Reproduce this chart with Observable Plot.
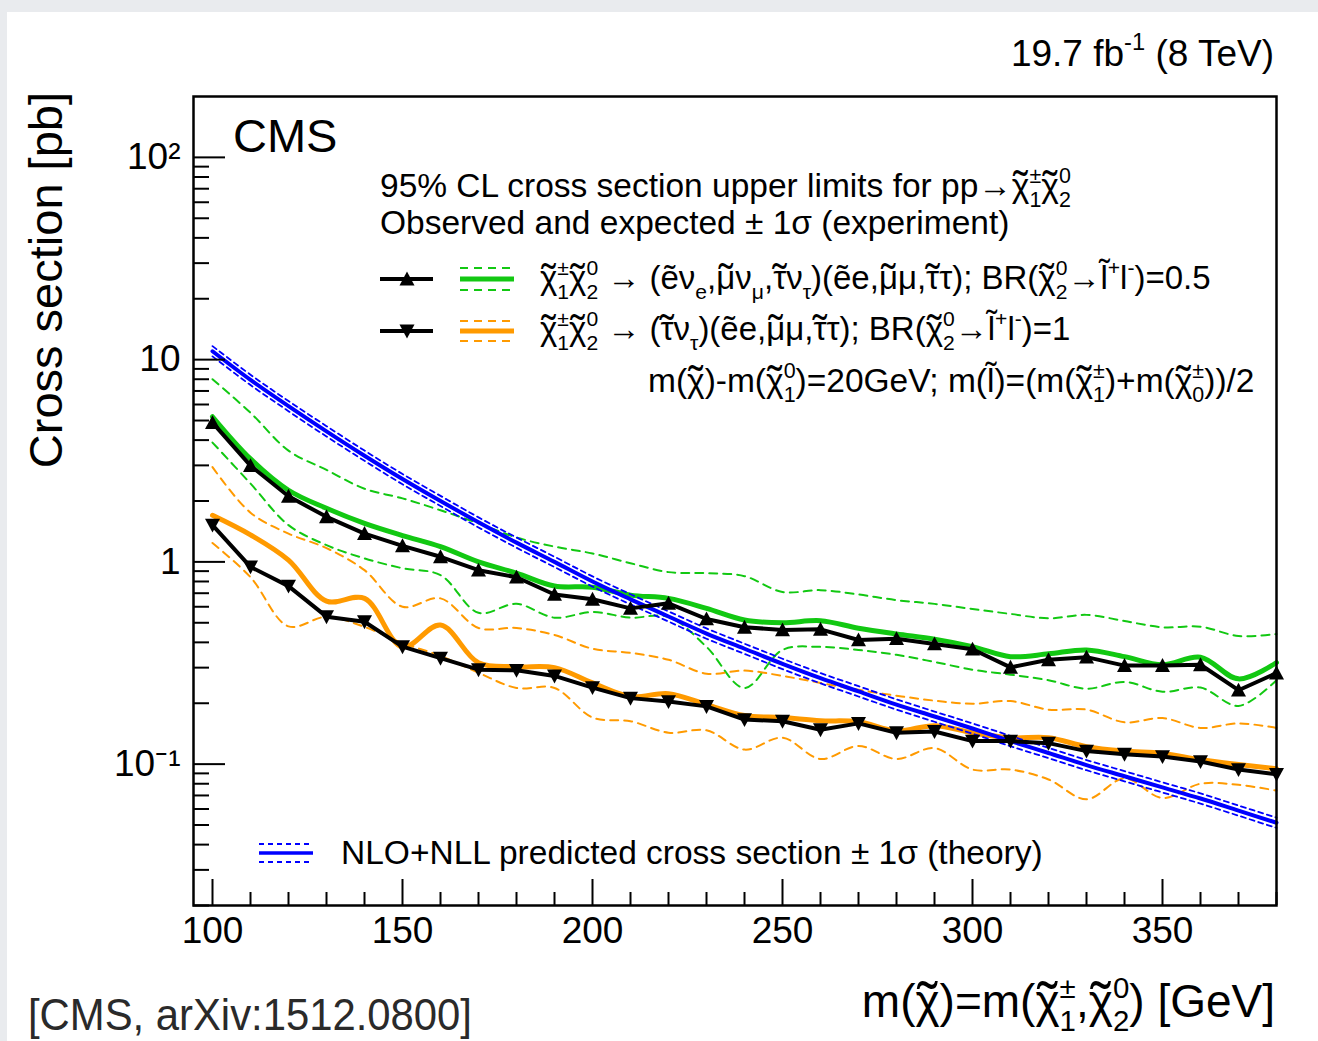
<!DOCTYPE html>
<html><head><meta charset="utf-8">
<script src="https://cdn.jsdelivr.net/npm/d3@7"></script>
<script src="https://cdn.jsdelivr.net/npm/@observablehq/plot@0.6"></script>
<style>
html,body{margin:0;padding:0;background:#e9ebee;overflow:hidden;}
#wrap{position:relative;width:1318px;height:1041px;background:#e9ebee;overflow:hidden;}
#page{position:absolute;left:7px;top:12px;width:1311px;height:1029px;background:#fff;}
#chart{position:absolute;left:0;top:0;}
#overlay{position:absolute;left:0;top:0;}
text{font-family:"Liberation Sans",Arial,Helvetica,sans-serif;}
</style></head><body>
<div id="wrap"><div id="page"></div><div id="chart"></div><svg id="overlay" width="1318" height="1041" xmlns="http://www.w3.org/2000/svg"></svg></div>
<script>
// ---------------- data ----------------
const mass = [100,110,120,130,140,150,160,170,180,190,200,210,220,230,240,250,260,270,280,290,300,310,320,330,340,350,360,370,380];
// Observed, BR(chi2 -> l l) = 0.5 (triangle up)
const obsA = [4.88,2.99,2.11,1.67,1.38,1.20,1.06,0.91,0.84,0.69,0.653,0.589,0.624,0.522,0.475,0.461,0.464,0.411,0.417,0.393,0.370,0.301,0.328,0.338,0.307,0.307,0.310,0.232,0.282];
const expA = [5.22,3.23,2.26,1.84,1.55,1.35,1.19,1.00,0.88,0.76,0.75,0.685,0.66,0.589,0.516,0.50,0.512,0.47,0.44,0.415,0.381,0.34,0.351,0.367,0.34,0.31,0.338,0.264,0.318];
const expAUp = [8.0,5.46,3.55,2.85,2.30,2.06,1.80,1.55,1.32,1.19,1.10,0.985,0.89,0.88,0.85,0.71,0.725,0.69,0.647,0.62,0.585,0.553,0.526,0.547,0.51,0.475,0.478,0.43,0.44];
const expADn = [3.89,2.44,1.52,1.21,1.04,0.93,0.86,0.56,0.62,0.53,0.565,0.53,0.535,0.38,0.238,0.367,0.38,0.367,0.347,0.32,0.293,0.277,0.26,0.236,0.255,0.228,0.239,0.194,0.26];
// Observed, BR = 1 (triangle down)
const obsB = [1.52,0.945,0.759,0.536,0.506,0.381,0.334,0.293,0.291,0.273,0.239,0.212,0.204,0.193,0.166,0.163,0.148,0.159,0.143,0.145,0.130,0.130,0.127,0.116,0.112,0.109,0.103,0.094,0.089];
const expB = [1.70,1.36,1.02,0.64,0.66,0.38,0.487,0.317,0.303,0.30,0.252,0.216,0.223,0.197,0.174,0.17,0.164,0.162,0.146,0.155,0.143,0.135,0.135,0.122,0.116,0.113,0.105,0.0995,0.095];
const expBUp = [2.94,1.75,1.38,1.17,0.91,0.60,0.66,0.471,0.471,0.435,0.372,0.355,0.328,0.28,0.29,0.273,0.252,0.233,0.218,0.206,0.199,0.205,0.186,0.186,0.161,0.169,0.151,0.159,0.151];
const expBDn = [1.24,0.84,0.48,0.535,0.477,0.397,0.343,0.283,0.238,0.238,0.17,0.163,0.143,0.147,0.118,0.135,0.106,0.123,0.106,0.12,0.094,0.094,0.084,0.067,0.085,0.068,0.08,0.079,0.074];
// NLO+NLL theory
const theory = [11.0,7.94,5.89,4.42,3.35,2.57,2.00,1.57,1.245,1.00,0.800,0.653,0.537,0.442,0.372,0.313,0.266,0.229,0.197,0.172,0.150,0.130,0.1135,0.0989,0.0871,0.0767,0.0676,0.0589,0.0513];
const theoryUp = [11.66,8.42,6.24,4.69,3.55,2.72,2.12,1.66,1.32,1.06,0.848,0.692,0.569,0.469,0.394,0.332,0.282,0.243,0.209,0.182,0.159,0.138,0.1203,0.1048,0.0923,0.0813,0.0717,0.0624,0.0544];
const theoryDn = [10.38,7.49,5.56,4.17,3.16,2.42,1.89,1.48,1.175,0.943,0.755,0.616,0.507,0.417,0.351,0.295,0.251,0.216,0.186,0.162,0.1415,0.1226,0.1071,0.0933,0.0822,0.0724,0.0638,0.0556,0.0484];
// axis ticks
const xMajor = [100,150,200,250,300,350];
const xMinor = [110,120,130,140,160,170,180,190,210,220,230,240,260,270,280,290,310,320,330,340,360,370,380];
const yMajor = [0.1,1,10,100];
const yMajorLabels = ["10\u207B\u00B9","1","10","10\u00B2"];
const yMinor = [0.02,0.03,0.04,0.05,0.06,0.07,0.08,0.09,0.2,0.3,0.4,0.5,0.6,0.7,0.8,0.9,2,3,4,5,6,7,8,9,20,30,40,50,60,70,80,90];

// ---------------- styles ----------------
const GREEN = "#12c812", ORANGE = "#ff9a00", BLUE = "#0000ff";
const series = arr => mass.map((m, i) => ({m, v: arr[i]}));
const triUp = {draw(ctx, size) { const r = Math.sqrt(size / Math.PI); ctx.moveTo(0, -r); ctx.lineTo(r, 0.85 * r); ctx.lineTo(-r, 0.85 * r); ctx.closePath(); }};
const triDn = {draw(ctx, size) { const r = Math.sqrt(size / Math.PI); ctx.moveTo(0, r); ctx.lineTo(r, -0.85 * r); ctx.lineTo(-r, -0.85 * r); ctx.closePath(); }};
const C = "catmull-rom";
const L = (arr, o) => Plot.line(series(arr), {x: "m", y: "v", ...o});

const chart = Plot.plot({
  width: 1318, height: 1041,
  marginLeft: 193, marginRight: 42, marginTop: 96, marginBottom: 136,
  style: {background: "transparent", fontFamily: "Liberation Sans, Arial, Helvetica, sans-serif", overflow: "visible"},
  x: {domain: [95, 380]},
  y: {type: "log", domain: [0.02, 200]},
  marks: [
    L(expAUp, {stroke: GREEN, strokeWidth: 2, strokeDasharray: "8,6", curve: C}),
    L(expADn, {stroke: GREEN, strokeWidth: 2, strokeDasharray: "8,6", curve: C}),
    L(expBUp, {stroke: ORANGE, strokeWidth: 2, strokeDasharray: "8,6", curve: C}),
    L(expBDn, {stroke: ORANGE, strokeWidth: 2, strokeDasharray: "8,6", curve: C}),
    L(expA, {stroke: GREEN, strokeWidth: 5, curve: C}),
    L(expB, {stroke: ORANGE, strokeWidth: 5, curve: C}),
    L(theoryUp, {stroke: BLUE, strokeWidth: 1.8, strokeDasharray: "5,4", curve: C}),
    L(theoryDn, {stroke: BLUE, strokeWidth: 1.8, strokeDasharray: "5,4", curve: C}),
    L(theory, {stroke: BLUE, strokeWidth: 4, curve: C}),
    L(obsA, {stroke: "black", strokeWidth: 4}),
    L(obsB, {stroke: "black", strokeWidth: 4}),
    Plot.dot(series(obsA), {x: "m", y: "v", symbol: triUp, r: 7.5, fill: "black", stroke: "none"}),
    Plot.dot(series(obsB), {x: "m", y: "v", symbol: triDn, r: 7.5, fill: "black", stroke: "none"}),
    Plot.frame({stroke: "black", strokeWidth: 2.5}),
    Plot.axisY({ticks: yMajor, tickSize: -32, tickFormat: () => "", strokeWidth: 2, label: null}),
    Plot.axisY({ticks: yMinor, tickSize: -16, tickFormat: () => "", strokeWidth: 2, label: null}),
    Plot.axisY({ticks: yMajor, tickSize: 0, tickPadding: 13, tickFormat: d => yMajorLabels[yMajor.indexOf(d)], fontSize: 37, label: null}),
    Plot.axisX({ticks: xMajor, tickSize: -26, tickFormat: () => "", strokeWidth: 2, label: null}),
    Plot.axisX({ticks: xMinor, tickSize: -13, tickFormat: () => "", strokeWidth: 2, label: null}),
    Plot.axisX({ticks: xMajor, tickSize: 0, tickPadding: 11, tickFormat: d => String(d), fontSize: 37, label: null})
  ]
});
document.getElementById("chart").appendChild(chart);

// ---------------- texts & legend ----------------
const NS = "http://www.w3.org/2000/svg";
const ov = document.getElementById("overlay");
function el(name, attrs, parent = ov) {
  const e = document.createElementNS(NS, name);
  for (const k in attrs) e.setAttribute(k, attrs[k]);
  parent.appendChild(e);
  return e;
}
function rich(x, y, size, parts, opts = {}) {
  const t = el("text", {x, y, "font-size": size, fill: opts.fill || "black"}, opts.parent || ov);
  if (opts.anchor) t.setAttribute("text-anchor", opts.anchor);
  if (opts.family) t.setAttribute("font-family", opts.family);
  if (opts.weight) t.setAttribute("font-weight", opts.weight);
  if (opts.textLength) { t.setAttribute("textLength", opts.textLength); t.setAttribute("lengthAdjust", "spacingAndGlyphs"); }
  let cur = 0, pend = 0;
  function add(str, fs, off, dx) {
    const s = document.createElementNS(NS, "tspan");
    s.setAttribute("font-size", fs);
    s.setAttribute("dy", off - cur); cur = off;
    const d = (dx || 0) + pend; pend = 0;
    if (d) s.setAttribute("dx", d);
    s.textContent = str; t.appendChild(s); return s;
  }
  const ss = 0.64 * size;
  for (const p of parts) {
    if (typeof p === "string") add(p, size, 0);
    else if (p.tl !== undefined) {
      const b = add(p.tl, size, 0);
      const w = b.getComputedTextLength();
      const tt = add("\u02DC", 1.3 * size, 0.16 * size);
      const wt = tt.getComputedTextLength();
      tt.setAttribute("dx", -(w + wt) / 2);
      pend = (w - wt) / 2;
    } else if (p.sup !== undefined && p.sub !== undefined) {
      const a = add(p.sup, ss, -0.42 * size);
      const wa = a.getComputedTextLength();
      const b = add(p.sub, ss, 0.3 * size, -wa);
      const wb = b.getComputedTextLength();
      if (wb < wa) pend = wa - wb;
    } else if (p.sup !== undefined) add(p.sup, ss, -0.42 * size);
    else if (p.sub !== undefined) add(p.sub, ss, 0.3 * size);
  }
  return t;
}
const E = "e\u0303", LT = "l\u0303";
const XI = {tl: "\u03C7"}, MU = {tl: "\u03BC"}, TAU = {tl: "\u03C4"};
const PM1 = {sup: "\u00B1", sub: "1"}, Z2 = {sup: "0", sub: "2"};
const LS = 33.5;

rich(1274, 66, 37, ["19.7 fb", {sup: "-1"}, " (8 TeV)"], {anchor: "end"});
rich(233, 152, 47, ["CMS"]);
rich(380, 197, LS, ["95% CL cross section upper limits for pp\u2192", XI, PM1, XI, Z2]);
rich(380, 234, LS, ["Observed and expected \u00B1 1\u03C3 (experiment)"]);
rich(540, 289, 33, [XI, PM1, XI, Z2, " \u2192 (" + E + "\u03BD", {sub: "e"}, ",", MU, "\u03BD", {sub: "\u03BC"}, ",", TAU, "\u03BD", {sub: "\u03C4"}, ")(" + E + "e,", MU, "\u03BC,", TAU, "\u03C4); BR(", XI, Z2, "\u2192" + LT, {sup: "+"}, "l", {sup: "-"}, ")=0.5"]);
rich(540, 340, 33, [XI, PM1, XI, Z2, " \u2192 (", TAU, "\u03BD", {sub: "\u03C4"}, ")(" + E + "e,", MU, "\u03BC,", TAU, "\u03C4); BR(", XI, Z2, "\u2192" + LT, {sup: "+"}, "l", {sup: "-"}, ")=1"]);
rich(648, 392, LS, ["m(", XI, ")-m(", XI, {sup: "0", sub: "1"}, ")=20GeV; m(" + LT + ")=(m(", XI, PM1, ")+m(", XI, {sup: "\u00B1", sub: "0"}, "))/2"]);
rich(341, 864, LS, ["NLO+NLL predicted cross section \u00B1 1\u03C3 (theory)"]);
rich(1275, 1017, 46, ["m(", XI, ")=m(", XI, PM1, ",", XI, Z2, ") [GeV]"], {anchor: "end"});
const g = el("g", {transform: "translate(62,92) rotate(-90)"});
rich(0, 0, 47, ["Cross section [pb]"], {anchor: "end", parent: g});
rich(28, 1030, 45, ["[CMS, arXiv:1512.0800]"], {family: "Lato, 'Open Sans', sans-serif", weight: 300, fill: "#2a2a2a", textLength: 444});

// legend symbols
function seg(x1, y1, x2, y2, stroke, w, dash) {
  const a = {x1, y1, x2, y2, stroke, "stroke-width": w};
  if (dash) a["stroke-dasharray"] = dash;
  el("line", a);
}
seg(380, 279, 433, 279, "black", 4);
el("path", {d: "M407,271.5L414.5,285.4L399.5,285.4Z", fill: "black"});
seg(460, 268, 514, 268, GREEN, 2, "8,6");
seg(460, 279, 514, 279, GREEN, 5);
seg(460, 290, 514, 290, GREEN, 2, "8,6");
seg(380, 331, 433, 331, "black", 4);
el("path", {d: "M407,338.5L414.5,324.6L399.5,324.6Z", fill: "black"});
seg(460, 321, 514, 321, ORANGE, 2, "8,6");
seg(460, 331, 514, 331, ORANGE, 5);
seg(460, 341, 514, 341, ORANGE, 2, "8,6");
seg(259, 844, 313, 844, BLUE, 1.8, "5,4");
seg(259, 853, 313, 853, BLUE, 3.5);
seg(259, 862, 313, 862, BLUE, 1.8, "5,4");
</script></body></html>
